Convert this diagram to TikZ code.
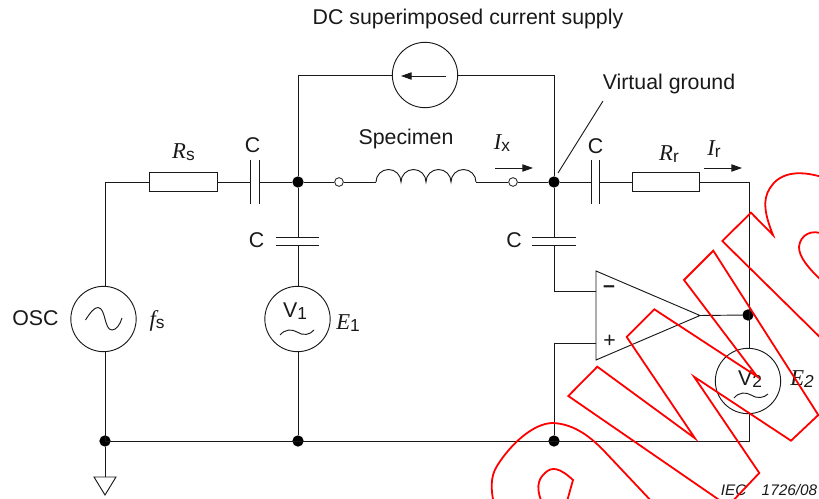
\documentclass[tikz,border=0pt]{standalone}
\usepackage{fontspec}
\setmainfont{Liberation Sans}
\newfontfamily\ser{Liberation Serif}[Ligatures=TeX]
\usetikzlibrary{arrows.meta}
\newcommand{\ital}[1]{{\ser\itshape #1}}
\newcommand{\sbs}[1]{\raisebox{-1.8pt}{\fontsize{13}{14}\selectfont #1}}
\tikzset{
  x=0.75pt,y=-0.75pt,
  wire/.style={line width=0.7pt,black!90,line join=miter},
  dot/.style={circle,fill=black,draw=none,minimum size=8.5pt,inner sep=0pt},
  term/.style={circle,fill=white,draw=black!90,line width=0.6pt,minimum size=6.5pt,inner sep=0pt},
  circ/.style={circle,draw=black!90,fill=white,line width=0.7pt,minimum size=49pt,inner sep=0pt},
  res/.style={draw=black!90,fill=white,line width=0.8pt,minimum width=50.5pt,minimum height=14.5pt,inner sep=0pt},
  lab/.style={inner sep=0pt,font=\fontsize{16}{18}\selectfont,text=black!90},
  sublab/.style={inner sep=0pt,font=\fontsize{17}{18}\selectfont,text=black!90},
  arr/.style={line width=0.7pt,black!90,-{Triangle[length=8pt,width=5.5pt]}},
  wm/.style={draw=red,line width=1.35pt,line join=miter}
}
\begin{document}
\begin{tikzpicture}
\useasboundingbox (0,0) rectangle (819,499);
\coordinate (TL) at (298,75);
\coordinate (TR) at (554,75);
\coordinate (LC) at (105,182);
\coordinate (RC) at (749,182);
\coordinate (BR) at (749,441);
\coordinate (L1) at (376,182);
\coordinate (L2) at (476,182);
\coordinate (M1) at (554,291);
\coordinate (M2) at (596,291);
\coordinate (P1) at (596,343);
\coordinate (P2) at (554,343);
\node[dot] (j1) at (298,182) {};
\node[dot] (j2) at (554,182) {};
\node[dot] (j3) at (105,441) {};
\node[dot] (j4) at (298,441) {};
\node[dot] (j5) at (554,441) {};
\node[dot] (j6) at (748,315) {};
\node[term] (t1) at (339,182) {};
\node[term] (t2) at (513,182) {};
\draw[wire] (j1) -- (TL) -- (TR) -- (j2);
\draw[wire] (LC) -- (j3.center) -- (BR) -- (RC);
\draw[wire] (LC) -- (j1);
\draw[wire] (j1) -- (t1);
\draw[wire] (t1) -- (L1);
\draw[wire] (L2) -- (t2);
\draw[wire] (t2) -- (j2);
\draw[wire] (j2) -- (RC);
\draw[wire] (j1) -- (j4);
\draw[wire] (j2) -- (M1) -- (M2);
\draw[wire] (P1) -- (P2) -- (j5);
\draw[wire] (L1) arc[start angle=180,end angle=360,radius=12.5]
  arc[start angle=180,end angle=360,radius=12.5]
  arc[start angle=180,end angle=360,radius=12.5]
  arc[start angle=180,end angle=360,radius=12.5];
\node[res] (rs) at (183.5,182) {};
\node[res] (rr) at (666,182) {};
% capacitors
\fill[white] (250,175) rectangle (259,189);
\draw[wire] (250,160) -- (250,204);
\draw[wire] (259,160) -- (259,204);
\fill[white] (591,175) rectangle (599,189);
\draw[wire] (591,160) -- (591,204);
\draw[wire] (599,160) -- (599,204);
\fill[white] (290,237) rectangle (306,245);
\draw[wire] (276,237) -- (319,237);
\draw[wire] (276,245) -- (319,245);
\fill[white] (546,237) rectangle (562,245);
\draw[wire] (532,237) -- (576,237);
\draw[wire] (532,245) -- (576,245);
% sources
\node[circ] (cs) at (425,75) {};
\node[circ] (osc) at (103.5,319) {};
\node[circ] (v1) at (297.5,319) {};
\draw[arr] (446,76) -- (401,76);
\draw[wire] (85.5,320) .. controls (90,313) and (94,307.5) .. (98,307.5) .. controls (106,308) and (104,330) .. (112,330) .. controls (116,330) and (120,325) .. (122,318);
\node[lab,anchor=center] (v1t) at (295,311) {V\sbs{1}};
\draw[wire] (280,335) .. controls (285,329) and (292,329) .. (297,332) .. controls (303,336) and (310,335) .. (314,330);
% opamp
\draw[wire,fill=white] (596,271) -- (700,315.5) -- (596,360) -- cycle;
\coordinate (ampout) at (700,315.5);
\draw[wire] (ampout) -- (j6);
\node[lab] (minus) at (609,289) {\textbf{–}};
\node[lab] (plus) at (609.5,341) {+};
\node[circ] (v2) at (748,381) {};
\node[lab] (v2t) at (750,379) {V\sbs{2}};
\draw[wire] (734,398) .. controls (739,392) and (746,392) .. (751,395) .. controls (757,399) and (764,398) .. (768,394);
% ground
\coordinate (gt) at (105,477);
\draw[wire] (j3) -- (gt);
\draw[wire] (94,477) -- (116,477) -- (105,495) -- cycle;
% arrows
\coordinate (ix1) at (495,168); \coordinate (ix2) at (533,168);
\draw[arr] (ix1) -- (ix2);
\coordinate (ir1) at (704,168); \coordinate (ir2) at (742,168);
\draw[arr] (ir1) -- (ir2);
% pointer
\coordinate (vg) at (603,101);
\coordinate (vg0) at (558,173);
\draw[wire] (vg0) -- (vg);
% labels
\node[lab] (l1) at (468,18.5) {DC superimposed current supply};
\node[lab] (l2) at (669,83.5) {Virtual ground};
\node[lab] (l3) at (406,138.5) {Specimen};
\node[lab] (l4) at (252.5,145) {C};
\node[lab] (l5) at (595.5,146) {C};
\node[lab] (l6) at (256.5,240) {C};
\node[lab] (l7) at (514,240) {C};
\node[lab] (l8) at (35.5,318) {OSC};
\node[sublab] (l9) at (183.5,152) {\ital{R}\sbs{s}};
\node[sublab] (l10) at (502,143) {\ital{I}\sbs{x}};
\node[sublab] (l11) at (669,154) {\ital{R}\sbs{r}};
\node[sublab] (l12) at (714,149) {\ital{I}\sbs{r}};
\node[sublab] (l13) at (157,321) {\ital{f}\sbs{s}};
\node[sublab] (l14) at (348,323) {\ital{E}\sbs{1}};
\node[sublab] (l15) at (802,379) {\ital{E}{\itshape\sbs{2}}};
\node[inner sep=0pt,font=\fontsize{11.5}{13}\selectfont\itshape,text=black!90] (iec) at (769,490) {IEC\hspace{1.0em}1726/08};
% watermark
\begin{scope}
\clip (0,0) rectangle (819,499);
\draw[wm] (825,178) .. controls (795,168) and (778,175) .. (770,188) .. controls (762,200) and (765,215) .. (773,235) -- (751,212.7) -- (722.3,241) -- (835,352);
\draw[wm] (818.3,415) -- (791,440.7) -- (694,376.7) -- (759.3,473) -- (728,506) -- (568.3,396) -- (597.3,366.7) -- (695,438.3) -- (626.7,337) -- (654.3,309.3) -- (757.3,376.7) -- (684,280) -- (713.3,250.7) -- cycle;
\draw[wm] (825,235) .. controls (812,228) and (800,235) .. (799,247) .. controls (799,257) and (808,268) .. (825,284);
\draw[wm] (494,505) .. controls (491,490) and (490,477) .. (497,466) .. controls (510,445) and (533,423) .. (553,423) .. controls (575,424) and (592,438) .. (606,453) -- (655,505);
\draw[wm] (543,505) .. controls (536,490) and (537,480) .. (545,473) .. controls (552,466) and (560,468) .. (573,480) -- (566,505);
\end{scope}
\end{tikzpicture}
\end{document}
